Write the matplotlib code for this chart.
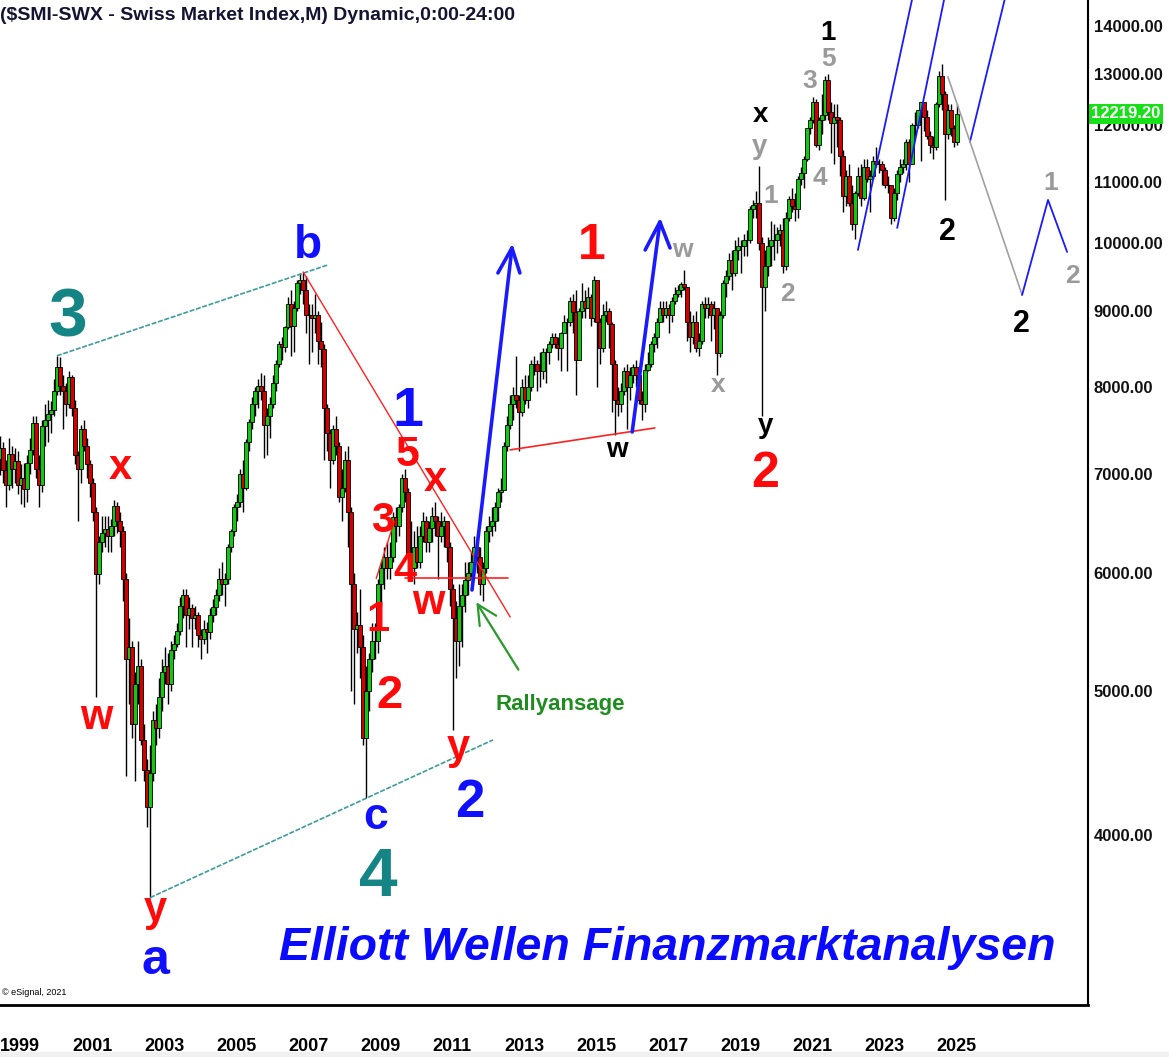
import numpy as np
import pandas as pd
import matplotlib.pyplot as plt
from matplotlib.ticker import FixedLocator, NullLocator, FuncFormatter
from matplotlib.transforms import blended_transform_factory
from matplotlib.patches import Rectangle

plt.rcParams['font.family'] = ['Liberation Sans', 'DejaVu Sans']

# monthly SMI candles, Jan 1999 .. Aug 2025 (open = previous close)
first_open = 7160
closes = [
    7280, 7040, 6880, 7220, 7050, 7140, 6880, 6950, 6830, 7110, 7260, 7570,   # 1999
    7050, 6880, 7530, 7600, 7680, 7720, 7950, 8250, 8020, 7950, 7800, 8135,   # 2000
    7750, 7200, 7050, 7500, 7300, 7100, 6900, 6600, 5990, 6300, 6380, 6420,   # 2001
    6350, 6450, 6660, 6500, 6400, 5950, 5250, 5350, 4750, 5050, 5200, 4630,   # 2002
    4420, 4180, 4400, 4780, 4720, 4950, 5150, 5200, 5050, 5330, 5380, 5487,   # 2003
    5700, 5800, 5620, 5680, 5600, 5620, 5450, 5420, 5500, 5480, 5620, 5693,   # 2004
    5800, 5950, 5900, 5950, 6250, 6400, 6650, 6700, 7000, 6850, 7350, 7584,   # 2005
    7800, 7950, 8020, 7950, 7550, 7650, 7800, 8050, 8300, 8550, 8520, 8786,   # 2006
    9100, 8800, 9050, 9400, 9450, 9300, 8950, 8950, 8900, 8950, 8600, 8484,   # 2007
    7750, 7450, 7150, 7500, 7300, 6750, 6850, 7150, 6600, 5900, 5500, 5535,   # 2008
    5350, 4650, 5000, 5250, 5400, 5400, 5900, 6050, 6150, 6050, 6150, 6546,   # 2009
    6450, 6650, 6950, 6800, 6150, 6050, 6250, 6100, 6350, 6500, 6300, 6436,   # 2010
    6550, 6500, 6350, 6450, 6500, 6250, 5850, 5600, 5400, 5700, 5800, 5936,   # 2011
    6000, 6100, 6250, 6150, 5900, 6050, 6400, 6450, 6500, 6650, 6800, 6822,   # 2012
    7300, 7550, 7800, 7900, 7850, 7700, 8000, 7850, 8000, 8300, 8300, 8203,   # 2013
    8200, 8450, 8450, 8550, 8650, 8550, 8500, 8700, 8850, 8850, 9150, 8983,   # 2014
    8350, 9000, 9150, 9050, 9200, 8900, 9450, 8850, 8500, 8950, 9000, 8818,   # 2015
    8300, 7850, 7800, 7950, 8200, 8000, 8150, 8250, 8150, 7850, 7800, 8220,   # 2016
    8300, 8550, 8650, 8850, 9050, 8950, 9050, 8950, 9150, 9250, 9300, 9382,   # 2017
    9350, 8850, 8650, 8850, 8500, 8600, 9100, 9050, 9100, 8950, 9050, 8430,   # 2018
    8950, 9400, 9500, 9750, 9550, 9900, 9950, 9950, 10050, 10050, 10550, 10617,  # 2019
    10650, 10000, 9350, 9650, 9950, 10050, 10050, 10150, 10200, 9650, 10400, 10704,  # 2020
    10600, 10550, 11050, 11150, 11400, 11950, 12100, 12450, 11650, 12100, 12200, 12876,  # 2021
    12250, 12050, 12150, 12100, 11450, 10750, 11100, 10650, 10300, 10800, 11100, 10729,  # 2022
    11250, 11050, 11100, 11350, 11300, 11300, 11200, 10950, 10950, 10400, 10800, 11138,  # 2023
    11250, 11300, 11700, 11300, 12000, 12000, 12300, 12450, 12150, 11800, 11650, 11600,  # 2024
    12400, 12950, 12600, 11850, 12300, 11950, 11700, 12219.2,                            # 2025
]
highs = [
    7420, 7350, 7150, 7400, 7300, 7280, 7250, 7100, 7120, 7200, 7400, 7650,
    7650, 7200, 7600, 7800, 7850, 7830, 8100, 8400, 8380, 8150, 8050, 8200,
    8150, 7850, 7250, 7550, 7600, 7400, 7150, 6950, 6650, 6350, 6550, 6550,
    6550, 6520, 6720, 6700, 6600, 6450, 6000, 5600, 5400, 5150, 5400, 5250,
    4750, 4500, 4600, 4850, 4900, 5100, 5250, 5350, 5300, 5400, 5450, 5550,
    5780, 5850, 5850, 5780, 5720, 5700, 5650, 5500, 5580, 5560, 5680, 5760,
    5850, 6050, 6100, 6000, 6280, 6420, 6680, 6780, 7050, 7150, 7380, 7620,
    7880, 8000, 8100, 8180, 8150, 7750, 7880, 8150, 8350, 8600, 8650, 8800,
    9200, 9300, 9150, 9450, 9550, 9570, 9500, 9100, 9100, 9250, 9000, 8850,
    8550, 7800, 7500, 7550, 7650, 7350, 7050, 7250, 7300, 6650, 6000, 5650,
    5850, 5450, 5200, 5300, 5550, 5550, 5950, 6100, 6250, 6300, 6300, 6600,
    6650, 6680, 7000, 7050, 6850, 6500, 6400, 6450, 6450, 6600, 6550, 6500,
    6650, 6700, 6550, 6600, 6550, 6500, 6300, 5900, 5750, 5900, 5900, 6100,
    6100, 6200, 6350, 6350, 6250, 6100, 6450, 6550, 6650, 6700, 6850, 6950,
    7350, 7650, 7900, 8000, 8400, 7900, 8100, 8150, 8150, 8350, 8400, 8350,
    8450, 8500, 8500, 8600, 8700, 8700, 8650, 8720, 8950, 8900, 9200, 9250,
    9300, 9050, 9400, 9300, 9350, 9250, 9500, 9450, 8900, 9100, 9150, 9050,
    8850, 8350, 8000, 8050, 8250, 8300, 8250, 8300, 8350, 8200, 7950, 8300,
    8450, 8600, 8700, 8900, 9150, 9150, 9150, 9100, 9200, 9350, 9380, 9420,
    9600, 9350, 9000, 8950, 9000, 8700, 9150, 9200, 9200, 9150, 9150, 9050,
    9000, 9450, 9600, 9850, 9900, 10050, 10100, 10050, 10150, 10200, 10600, 10700,
    10850, 11270, 10100, 9900, 10100, 10350, 10300, 10250, 10300, 10400, 10500, 10750,
    10900, 10800, 11100, 11250, 11450, 11950, 12150, 12550, 12500, 12150, 12600, 12950,
    12997, 12450, 12400, 12400, 12150, 11550, 11200, 11300, 10950, 10850, 11250, 11300,
    11400, 11400, 11200, 11450, 11600, 11400, 11350, 11250, 11100, 10950, 10900, 11200,
    11400, 11400, 11750, 11750, 12050, 12250, 12300, 12450, 12450, 12300, 11900, 11800,
    12450, 13050, 13200, 12650, 12400, 12400, 12000, 12400,
]
lows = [
    6980, 6900, 6650, 6820, 6850, 6900, 6780, 6680, 6650, 6700, 7000, 7200,
    6950, 6650, 6800, 7300, 7350, 7450, 7650, 7900, 7900, 7500, 7650, 7750,
    7650, 7100, 6500, 6900, 7250, 6950, 6750, 6500, 4950, 5900, 6200, 6250,
    6200, 6200, 6350, 6380, 6250, 5750, 4380, 4900, 4650, 4350, 4900, 4600,
    4350, 4050, 3630, 4350, 4600, 4650, 4850, 5050, 4900, 5000, 5250, 5350,
    5450, 5600, 5350, 5500, 5350, 5500, 5350, 5250, 5380, 5300, 5420, 5560,
    5620, 5750, 5800, 5700, 5900, 6200, 6350, 6500, 6650, 6600, 6820, 7250,
    7500, 7650, 7750, 7850, 7170, 7200, 7400, 7750, 7950, 8250, 8350, 8450,
    8750, 8400, 8450, 9000, 9250, 9100, 8700, 8300, 8450, 8700, 8300, 8250,
    7150, 7250, 6850, 7100, 7200, 6700, 6500, 6800, 6250, 5000, 4900, 5300,
    5100, 4600, 4234, 4850, 5150, 5250, 5300, 5700, 5850, 5950, 5950, 6100,
    6300, 6350, 6600, 6700, 5950, 6000, 5900, 6050, 6050, 6300, 6200, 6200,
    6300, 6350, 5950, 6300, 6250, 6100, 5700, 4704, 5100, 5200, 5350, 5650,
    5800, 5950, 6050, 6000, 5800, 5750, 6000, 6300, 6350, 6400, 6500, 6700,
    6850, 7250, 7500, 7600, 7750, 7250, 7650, 7800, 7750, 7950, 8150, 7950,
    8000, 8100, 8050, 8300, 8500, 8500, 8350, 8200, 8700, 8200, 8800, 8700,
    7900, 8350, 8900, 8900, 9050, 8800, 8850, 8000, 8300, 8450, 8850, 8500,
    7700, 7430, 7650, 7700, 7900, 7500, 7850, 8050, 8000, 7800, 7600, 7700,
    8200, 8250, 8450, 8500, 8850, 8850, 8900, 8700, 8850, 9100, 9200, 9200,
    9300, 8600, 8450, 8550, 8450, 8400, 8550, 8900, 8900, 8600, 8750, 8150,
    8380, 8900, 9200, 9450, 9300, 9500, 9750, 9550, 9800, 9800, 10000, 10400,
    10400, 9900, 7650, 9000, 9500, 9650, 9750, 9850, 9950, 9550, 9600, 10350,
    10500, 10350, 10400, 10950, 10900, 11350, 11850, 12050, 11600, 11550, 11850, 12100,
    12100, 11500, 11300, 11600, 11100, 10500, 10600, 10600, 10200, 10072, 10750, 10600,
    10700, 11000, 10500, 11050, 11250, 11150, 10950, 10900, 10800, 10300, 10350, 10700,
    11000, 11150, 11200, 11000, 11300, 11800, 11950, 11350, 11900, 11750, 11500, 11400,
    11550, 12350, 12300, 10700, 11750, 11800, 11600, 11650,
]

months = pd.date_range('1999-01-01', periods=len(closes), freq='MS')
t = months.year + (months.month - 1) / 12.0
c = np.array(closes, dtype=float)
o = np.array([first_open] + closes[:-1], dtype=float)
h = np.array(highs, dtype=float)
l = np.array(lows, dtype=float)

year_ticks = list(range(1999, 2026, 2))
price_ticks = [4000, 5000, 6000, 7000, 8000, 9000, 10000, 11000, 12000, 13000, 14000]

# wave labels: text, x (year), y (price), colour, size
RED, BLUE, TEAL, GRAY, BLACK = '#ff0a0a', '#1010ff', '#148484', '#9a9a9a', '#000000'
wave_labels = [
    ('3', 2000.89, 8900, TEAL, 50), ('b', 2007.56, 9950, BLUE, 33),
    ('x', 2002.33, 7061, RED, 30), ('w', 2001.67, 4794, RED, 30),
    ('y', 2003.31, 3560, RED, 30), ('a', 2003.31, 3290, BLUE, 36),
    ('1', 2010.33, 7700, BLUE, 40), ('5', 2010.33, 7200, RED, 31),
    ('x', 2011.08, 6931, RED, 30), ('3', 2009.64, 6500, RED, 30),
    ('4', 2010.25, 6020, RED, 30), ('w', 2010.89, 5729, RED, 30),
    ('1', 2009.50, 5580, RED, 30), ('2', 2009.83, 4960, RED, 34),
    ('y', 2011.72, 4580, RED, 30), ('2', 2012.06, 4200, BLUE, 38),
    ('c', 2009.42, 4110, BLUE, 32), ('4', 2009.50, 3740, TEAL, 50),
    ('1', 2015.44, 9950, RED, 36), ('w', 2016.14, 7261, BLACK, 20),
    ('w', 2017.94, 9896, GRAY, 19), ('x', 2018.94, 8030, GRAY, 19),
    ('x', 2020.11, 12200, BLACK, 20), ('y', 2020.11, 11600, GRAY, 20),
    ('y', 2020.25, 7530, BLACK, 20), ('2', 2020.25, 7000, RED, 36),
    ('1', 2020.42, 10760, GRAY, 19), ('2', 2020.86, 9250, GRAY, 19),
    ('3', 2021.50, 12850, GRAY, 19), ('5', 2022.00, 13300, GRAY, 19),
    ('1', 2022.00, 13850, BLACK, 20), ('4', 2021.78, 11060, GRAY, 19),
    ('2', 2025.31, 10180, BLACK, 22), ('1', 2028.17, 10980, GRAY, 19),
    ('2', 2028.78, 9510, GRAY, 19), ('2', 2027.36, 8820, BLACK, 22),
]

# drawn lines: points (year, price), colour, width, style
trend_lines = [
    ([(2000.58, 8400), (2008.11, 9670)], '#3c9c9c', 1.2, (0, (3, 1))),
    ([(2003.17, 3630), (2012.69, 4634)], '#3c9c9c', 1.2, (0, (3, 1))),
    ([(2007.42, 9565), (2013.17, 5606)], '#ff2020', 1.0, '-'),
    ([(2010.25, 5955), (2013.11, 5955)], '#ff2020', 1.2, '-'),
    ([(2009.45, 5950), (2009.95, 6500)], '#ff2020', 1.0, '-'),
    ([(2013.17, 7261), (2017.19, 7512)], '#ff2020', 1.2, '-'),
    ([(2012.11, 5845), (2013.22, 9927)], '#1a1aff', 2.6, '-'),
    ([(2012.83, 9550), (2013.22, 9927), (2013.44, 9550)], '#1a1aff', 2.6, '-'),
    ([(2016.56, 7466), (2017.33, 10335)], '#1a1aff', 2.6, '-'),
    ([(2016.92, 9896), (2017.33, 10335), (2017.61, 9927)], '#1a1aff', 2.6, '-'),
    ([(2022.83, 9896), (2024.45, 15033)], '#1a1aff', 1.3, '-'),
    ([(2023.92, 10239), (2025.40, 15300)], '#1a1aff', 1.3, '-'),
    ([(2025.94, 11698), (2027.00, 14900)], '#1a1aff', 1.3, '-'),
    ([(2025.33, 12936), (2027.39, 9230)], '#a0a0a0', 1.2, '-'),
    ([(2027.39, 9230), (2028.11, 10693), (2028.64, 9866)], '#1a1aff', 1.3, '-'),
]

fig = plt.figure(figsize=(11.69, 10.57), dpi=100)
ax = fig.add_axes([0, 1 - 1005 / 1057, 1088 / 1169, 1005 / 1057])
fig.patches.append(Rectangle((0, 0), 1, 5 / 1057, transform=fig.transFigure,
                             color='#f0f0f0', zorder=0))

# candles
up = c >= o
ax.vlines(t, l, h, color='black', lw=1.0, zorder=2)
ax.bar(t, np.abs(c - o), bottom=np.minimum(o, c), width=0.09,
       color=np.where(up, '#12c812', '#d40000'), edgecolor='black', lw=0.6, zorder=3)

ax.set_yscale('log')
ax.set_ylim(3074, 14573)
ax.set_xlim(1999.0, 2029.22)

ax.yaxis.tick_right()
ax.yaxis.set_major_locator(FixedLocator(price_ticks))
ax.yaxis.set_minor_locator(NullLocator())
ax.yaxis.set_major_formatter(FuncFormatter(lambda v, p: f'{v:.2f}'))
ax.yaxis.set_minor_formatter(FuncFormatter(lambda v, p: ''))
ax.tick_params(axis='y', length=0, pad=4, labelsize=12, labelcolor='#111111')
for lab in ax.get_yticklabels():
    lab.set_fontweight('bold')

ax.set_xticks(year_ticks)
ax.set_xticklabels([str(y) for y in year_ticks], ha='left', fontsize=13, fontweight='bold')
ax.tick_params(axis='x', length=0, pad=24)

for s in ['left', 'top']:
    ax.spines[s].set_visible(False)
ax.spines['right'].set_linewidth(1.5)
ax.spines['bottom'].set_linewidth(2.0)

for pts, col, lw, ls in trend_lines:
    xs, ys = zip(*pts)
    ax.plot(xs, ys, color=col, lw=lw, ls=ls, zorder=4, solid_capstyle='round')

ax.annotate('', xy=(2012.19, 5756), xytext=(2013.44, 5148),
            arrowprops=dict(arrowstyle='->', color='#2a9a2a', lw=1.6, mutation_scale=35), zorder=5)
ax.text(2014.56, 4892, 'Rallyansage', color='#1e8c1e', fontsize=16, fontweight='bold',
        ha='center', va='center', zorder=6)

for txt, x, y, col, size in wave_labels:
    ax.text(x, y, txt, color=col, fontsize=size, fontweight='bold',
            ha='center', va='center', zorder=6)

ax.text(0.0, 0.985, '($SMI-SWX - Swiss Market Index,M) Dynamic,0:00-24:00',
        transform=ax.transAxes, ha='left', va='center', fontsize=14,
        fontweight='bold', color='#141432')
ax.text(0.613, 0.0567, 'Elliott Wellen Finanzmarktanalysen', transform=ax.transAxes,
        ha='center', va='center', fontsize=33.5, fontweight='bold', fontstyle='italic',
        color='#0a0aff', zorder=6)
ax.text(0.002, 0.008, '\u00a9 eSignal, 2021', transform=ax.transAxes, ha='left',
        va='bottom', fontsize=6.5, color='black')

trans = blended_transform_factory(ax.transAxes, ax.transData)
ax.text(1.003, c[-1], f'{c[-1]:.2f}', transform=trans, ha='left', va='center',
        fontsize=12, fontweight='bold', color='white', clip_on=False, zorder=10,
        bbox=dict(boxstyle='square,pad=0.15', fc='#18e018', ec='none'))

fig.savefig('out.png', dpi=100)
